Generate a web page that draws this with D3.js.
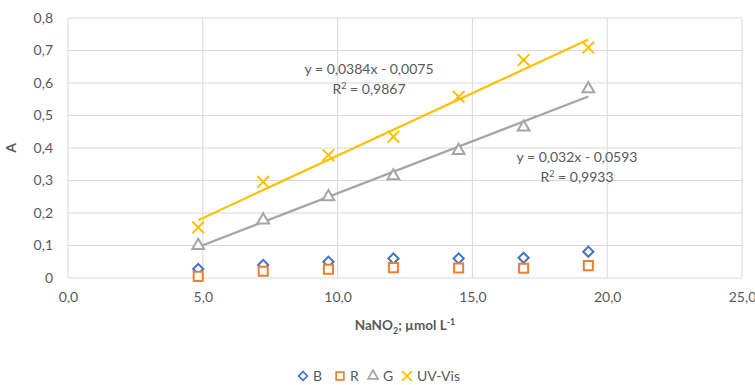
<!DOCTYPE html>
<meta charset="utf-8">
<script src="https://d3js.org/d3.v7.min.js"></script>
<style>
  body { margin: 0; background: #fff; }
  text { font-family: Lato, "Open Sans", sans-serif; fill: #595959; }
</style>
<div id="vis"></div>
<script>

// NaNO2 concentrations (umol/L)
var conc = [4.83, 7.24, 9.66, 12.07, 14.49, 16.9, 19.3];
// absorbance per channel
var bVals  = [0.028, 0.040, 0.050, 0.060, 0.060, 0.062, 0.081];
var rVals  = [0.005, 0.021, 0.027, 0.032, 0.031, 0.030, 0.038];
var gVals  = [0.100, 0.178, 0.250, 0.314, 0.392, 0.464, 0.582];
var uvVals = [0.156, 0.296, 0.378, 0.435, 0.558, 0.671, 0.709];
// linear fits (slope, intercept)
var uvFit = [0.0384, -0.0075];
var gFit  = [0.032, -0.0593];
var xTicks = [0, 5, 10, 15, 20, 25];
var yTicks = [0, 0.1, 0.2, 0.3, 0.4, 0.5, 0.6, 0.7, 0.8];

var W = 755, H = 385;
var margin = {top: 18, right: 13, bottom: 107, left: 68},
    width = W - margin.left - margin.right,
    height = H - margin.top - margin.bottom;

var svg = d3.select("#vis").append("svg")
    .attr("width", W).attr("height", H)
  .append("g")
    .attr("transform", "translate(" + margin.left + "," + margin.top + ")");

var x = d3.scaleLinear().domain([0, 25]).range([0, width]);
var y = d3.scaleLinear().domain([0, 0.8]).range([height, 0]);

var fmt = function(v) { return v === 0 ? "0" : d3.format(".1f")(v).replace(".", ","); };

// grid
svg.append("g").selectAll("line").data(yTicks).enter().append("line")
    .attr("x1", 0).attr("x2", width)
    .attr("y1", d => y(d)).attr("y2", d => y(d))
    .attr("stroke", "#d9d9d9").attr("stroke-width", 1);
svg.append("g").selectAll("line").data(xTicks).enter().append("line")
    .attr("x1", d => x(d)).attr("x2", d => x(d))
    .attr("y1", 0).attr("y2", height)
    .attr("stroke", "#d9d9d9").attr("stroke-width", 1);

// axes (labels only)
var xAxis = svg.append("g")
    .attr("transform", "translate(0," + height + ")")
    .call(d3.axisBottom(x).tickValues(xTicks).tickSize(0).tickPadding(14)
      .tickFormat(d => d3.format(".1f")(d).replace(".", ",")));
var yAxis = svg.append("g")
    .call(d3.axisLeft(y).tickValues(yTicks).tickSize(0).tickPadding(15).tickFormat(fmt));
[xAxis, yAxis].forEach(function(a) {
  a.select(".domain").remove();
  a.selectAll("text").style("font-family", "Lato, sans-serif").style("font-size", "14px").attr("fill", "#595959");
});

// axis titles
svg.append("text")
    .attr("x", width / 2).attr("y", height + 52)
    .style("text-anchor", "middle").style("font-size", "13.5px").style("font-weight", "bold")
    .html('NaNO<tspan dy="4" font-size="9">2</tspan><tspan dy="-4">; µmol L</tspan><tspan dy="-5" font-size="9">-1</tspan>');
svg.append("text")
    .attr("transform", "translate(" + (-52) + "," + (height / 2) + ") rotate(-90)")
    .style("text-anchor", "middle").style("font-size", "14px").style("font-weight", "bold")
    .text("A");

// trendlines
function fitLine(fit, color) {
  var ends = [d3.min(conc), d3.max(conc)];
  svg.append("line")
      .attr("x1", x(ends[0])).attr("y1", y(fit[0] * ends[0] + fit[1]))
      .attr("x2", x(ends[1])).attr("y2", y(fit[0] * ends[1] + fit[1]))
      .attr("stroke", color).attr("stroke-width", 2.2);
}

var series = [
  {name: "B", vals: bVals, color: "#4472C4", type: "diamond"},
  {name: "R", vals: rVals, color: "#ED7D31", type: "square"},
  {name: "G", vals: gVals, color: "#A5A5A5", type: "triangle"},
  {name: "UV-Vis", vals: uvVals, color: "#FFC000", type: "x"}
];

function marker(sel, type, color) {
  if (type === "diamond") {
    sel.append("path").attr("d", d3.symbol(d3.symbolSquare, 52)())
      .attr("transform", "rotate(45)");
  } else if (type === "square") {
    sel.append("path").attr("d", d3.symbol(d3.symbolSquare, 82)());
  } else if (type === "triangle") {
    sel.append("path").attr("d", d3.symbol(d3.symbolTriangle, 60)());
  } else {
    sel.append("path").attr("d", d3.symbol(d3.symbolX, 90)());
  }
  sel.selectAll("path").attr("fill", type === "x" ? "none" : "#fff")
    .attr("stroke", color).attr("stroke-width", 2);
}

series.forEach(function(s) {
  if (s.name === "G") fitLine(gFit, s.color);
  if (s.name === "UV-Vis") fitLine(uvFit, s.color);
  svg.append("g").selectAll("g").data(s.vals).enter().append("g")
      .attr("transform", (d, i) => "translate(" + x(conc[i]) + "," + y(d) + ")")
      .each(function() { marker(d3.select(this), s.type, s.color); });
});

// equations
function eq(cx, cy, line1, r2) {
  svg.append("text").attr("x", cx).attr("y", cy)
      .style("text-anchor", "middle").style("font-size", "14px").text(line1);
  svg.append("text").attr("x", cx).attr("y", cy + 20)
      .style("text-anchor", "middle").style("font-size", "14px")
      .html('R<tspan dy="-5" font-size="9">2</tspan><tspan dy="5"> = ' + r2 + '</tspan>');
}
eq(301, 56, "y = 0,0384x - 0,0075", "0,9867");
eq(509, 144, "y = 0,032x - 0,0593", "0,9933");

// legend
var legX = [235, 272, 305, 339];
var leg = svg.append("g").attr("transform", "translate(0," + (H - margin.top - 9) + ")");
series.forEach(function(s, i) {
  var g = leg.append("g").attr("transform", "translate(" + legX[i] + ",0)");
  var m = g.append("g").attr("transform", "scale(0.85)");
  marker(m, s.type, s.color);
  g.append("text").attr("x", 10).attr("y", 5).style("font-size", "14px").text(s.name);
});

</script>
